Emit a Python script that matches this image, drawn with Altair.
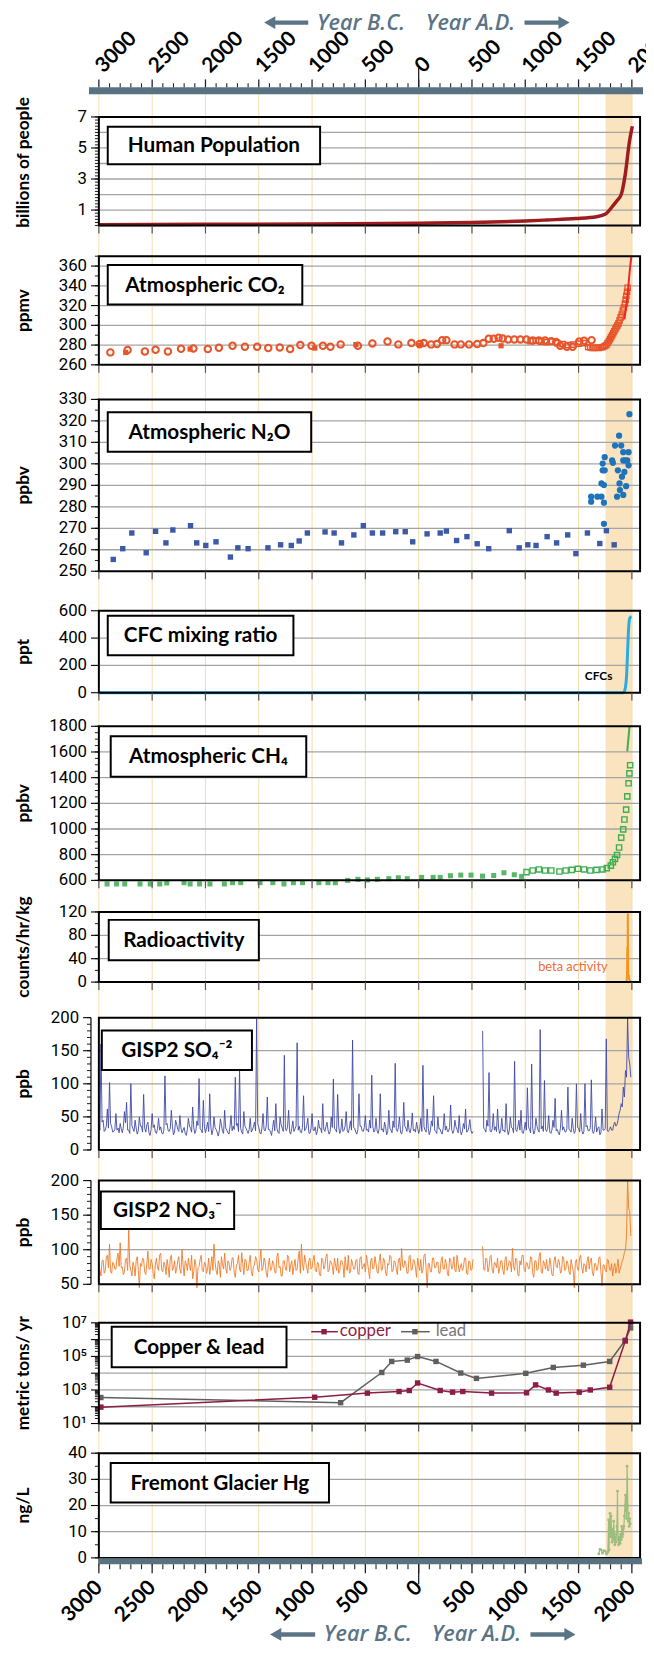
import altair as alt
import pandas as pd

# ------------------------------------------------------------------ data
pop_year = [-3000, -2000, -1000, 0, 500, 1000, 1200, 1475, 1668, 1753, 1784, 1822, 1860, 1900, 1938, 1977, 2004]
pop_val = [0.06, 0.08, 0.10, 0.15, 0.20, 0.30, 0.36, 0.45, 0.57, 0.74, 0.95, 1.27, 1.6, 2.0, 3.3, 5.4, 6.4]

co2_circ_year = [-2892, -2730, -2568, -2468, -2352, -2229, -2113, -1978, -1874, -1746, -1630, -1515, -1411, -1303, -1206,
                 -1110, -1005, -898, -828, -732, -570, -434, -292, -191, -68, 9, 48, 117, 171, 221, 260, 337, 395, 472,
                 549, 607, 657, 704, 750, 788, 839, 897, 954, 1012, 1070, 1128, 1186, 1244, 1290, 1328, 1390, 1444,
                 1506, 1552, 1622]
co2_circ_val = [272.6, 275, 273.6, 275.3, 273.6, 276.3, 276.6, 276, 277.3, 279.3, 278.3, 278.3, 277, 277.6, 276,
                280, 279.3, 279.3, 278.3, 280.7, 279.3, 281.7, 283.7, 280.7, 282, 281, 282, 280.7, 281, 285, 285, 280.7,
                280.7, 280.7, 281, 282, 286.4, 286.4, 287.4, 286.7, 285.7, 285.7, 285.7, 285.7, 284.7, 284.7, 284.7,
                284, 283, 279.3, 278.3, 278.3, 283.7, 284.4, 285]
co2_fsq_year = [-2748, -2144, -975, -589, 9, 773]
co2_fsq_val = [272.5, 276, 277, 280.5, 279.5, 279.3]
co2_osq_year = [1050, 1100, 1150, 1200, 1250, 1300, 1350, 1400, 1450, 1500, 1550, 1590, 1610, 1630, 1650, 1670, 1690,
                1710, 1730, 1745, 1760, 1772, 1784, 1795, 1805, 1815, 1825, 1835, 1845, 1855, 1865, 1875, 1885, 1895,
                1905, 1915, 1925, 1935, 1942, 1948, 1955, 1960]
co2_osq_val = [284, 284.5, 283.5, 283, 283.5, 282, 281, 280, 280.5, 281.5, 282, 278, 277.5, 277, 277, 277.5, 277,
               277.5, 278, 279, 280, 282, 284, 286, 288, 290, 292, 294, 296, 298, 300, 302, 305, 308, 311, 315, 318,
               322, 326, 330, 334, 338]
co2_line_year = [1930, 1945, 1958, 1970, 1980, 1990, 1996]
co2_line_val = [306, 318, 330, 343, 355, 365, 370]

n2o_sq_year = [-2865, -2776, -2691, -2556, -2468, -2371, -2306, -2140, -2082, -1997, -1901, -1766, -1696, -1600,
               -1414, -1295, -1195, -1121, -1044, -878, -793, -724, -608, -519, -434, -338, -215, -126, -56, 79, 202,
               260, 356, 453, 549, 657, 850, 943, 1024, 1101, 1205, 1294, 1398, 1475, 1583, 1699, 1761, 1834]
n2o_sq_val = [255.5, 260.5, 267.8, 258.6, 268.6, 263.2, 269.2, 271.2, 263.2, 262, 263.7, 256.6, 260.9, 260.5, 260.9,
              262.3, 262, 264.1, 267.8, 268.3, 267.8, 263.2, 266.9, 271.2, 267.8, 267.8, 268.4, 268.4, 263.7, 267.4,
              267.8, 268.7, 264.3, 266.1, 262.8, 260.5, 268.9, 260.9, 262.3, 262, 266.1, 263.2, 266.9, 258.2, 267.8,
              262.9, 268.9, 262.3]
n2o_circ_year = [1618, 1618, 1676, 1715, 1738, 1715, 1738, 1726, 1745, 1726, 1745, 1738, 1815, 1822, 1842, 1861,
                 1869, 1880, 1900, 1919, 1907, 1884, 1888, 1919, 1919, 1930, 1938, 1946, 1957, 1969, 1969, 1977]
n2o_circ_val = [284.7, 282.4, 284.7, 284.7, 281.9, 290.9, 290.1, 297, 297, 300.1, 303.1, 272.1, 301.6, 300.5, 308.5,
                284.7, 297, 313.1, 308.5, 301.6, 294, 290.9, 287.8, 285.5, 305.4, 296.2, 301.6, 289.6, 301.6, 305.4,
                299.3, 323.1]

cfc_year = [-3000, 1919, 1930, 1940, 1950, 1958, 1965, 1972, 1980, 1990, 1996]
cfc_val = [0, 0, 10, 40, 120, 260, 400, 500, 545, 555, 558]

ch4_fsq_year = [-2923, -2834, -2757, -2614, -2518, -2429, -2363, -2201, -2144, -2055, -1958, -1823, -1746, -1669,
                -1488, -1368, -1264, -1175, -1090, -936, -851, -782, -666, -570, -481, -388, -280, -191, -107, 28, 136,
                202, 298, 395, 491, 599, 704, 800, 897, 966]
ch4_fsq_val = [572, 572, 572, 572, 572, 572, 579.5, 582, 572, 572, 572, 572, 582, 582, 582, 582, 572, 582, 582, 582,
               582, 582, 600, 608, 603, 608, 613, 620, 613, 623, 623, 623, 636, 641, 641, 633, 638, 659, 644, 631]
ch4_osq_year = [1012, 1070, 1128, 1186, 1244, 1321, 1379, 1437, 1494, 1552, 1610, 1668, 1726, 1765, 1803, 1822, 1842,
                1861, 1880, 1900, 1919, 1930, 1946, 1957, 1969, 1977, 1984]
ch4_osq_val = [664, 677, 685, 677, 677, 669, 677, 682, 690, 685, 677, 682, 685, 695, 715, 741, 767, 797, 856, 933,
               997, 1074, 1151, 1254, 1356, 1433, 1497]
ch4_line_year = [1957, 1967, 1978]
ch4_line_val = [1605, 1700, 1800]

rad_year = [-3000, 1945, 1950, 1953, 1955, 1957, 1959, 1961, 1962, 1963, 1964, 1965, 1966, 1968, 1970, 1972, 1975,
            1980, 1985, 1990, 1995]
rad_val = [0, 0, 2, 8, 20, 60, 35, 70, 118, 90, 40, 25, 15, 10, 6, 12, 4, 3, 2, 1, 0]

N = None
so4_year = list(range(-3000, 1991, 10))
so4_val = [38, 30, 160, 42, 45, 28, 30, 36, 62, 33, 102, 40, 35, 27, 28, 31, 55, 30, 33, 26,
           40, 32, 26, 35, 58, 41, 72, 30, 30, 25, 100, 37, 32, 28, 45, 33, 24, 29, 50, 36,
           36, 27, 84, 33, 27, 38, 42, 26, 22, 31, 55, 34, 38, 27, 25, 32, 48, 30, 35, 26,
           24, 30, 112, 38, 40, 29, 28, 33, 60, 35, 23, 27, 45, 39, 31, 28, 52, 33, 26, 30,
           34, 25, 22, 31, 48, 36, 33, 27, 65, 34, 25, 29, 44, 37, 108, 32, 30, 26, 75, 35,
           26, 33, 42, 28, 85, 36, 23, 30, 50, 34, 31, 27, 21, 29, 47, 38, 28, 25, 60, 33,
           30, 26, 24, 35, 52, 29, 36, 31, 110, 37, 40, 28, 121, 33, 27, 24, 58, 36, 33, 29,
           25, 31, 48, 27, 30, 35, 42, 29, 198, 40, 34, 26, 24, 33, 55, 30, 29, 36, 80, 31,
           31, 27, 22, 34, 45, 29, 70, 33, 27, 25, 50, 38, 33, 28, 143, 31, 29, 35, 60, 27,
           24, 33, 44, 28, 32, 36, 162, 30, 36, 27, 26, 34, 82, 29, 31, 37, 48, 26, 25, 32,
           55, 30, 29, 35, 23, 28, 45, 33, 33, 26, 70, 31, 28, 35, 42, 30, 24, 28, 50, 34,
           107, 32, 31, 27, 84, 35, 25, 30, 47, 28, 30, 36, 58, 29, 26, 33, 44, 30, 166, 34,
           33, 27, 24, 31, 85, 36, 36, 29, 28, 34, 52, 30, 31, 27, 45, 33, 113, 35, 27, 30,
           48, 29, 25, 33, 85, 30, 32, 27, 42, 35, 23, 28, 60, 33, 30, 26, 44, 34, 131, 31,
           28, 34, 50, 27, 24, 31, 72, 36, 33, 28, 45, 30, 26, 34, 56, 29, 31, 27, 42, 33,
           25, 31, 48, 28, 128, 35, 30, 27, 62, 33, 23, 29, 44, 36, 82, 30, 28, 25, 50, 32,
           32, 27, 24, 33, 55, 30, 36, 28, 28, 34, 68, 31, 25, 29, 45, 35, 31, 26, 52, 30,
           23, 28, 40, 32, 62, 27, 28, 34, 46, 30, 25, 28, N, N, N, N, N, N, N, N,
           180, 33, 31, 27, 45, 36, 117, 29, 27, 32, 55, 30, 35, 28, 62, 33, 25, 30, 48, 29,
           30, 27, 70, 33, 23, 29, 50, 34, 33, 26, 134, 31, 28, 35, 45, 30, 60, 27, 25, 31,
           42, 30, 94, 35, 31, 26, 130, 33, 24, 29, 48, 36, 30, 27, 182, 32, 36, 28, 105, 31,
           28, 33, 52, 27, 25, 30, 45, 34, 78, 29, 31, 26, 23, 33, 60, 30, 35, 28, 27, 32,
           95, 31, 30, 27, 48, 33, 25, 29, 100, 34, 33, 27, 55, 30, 24, 28, 100, 35, 37, 29,
           29, 33, 106, 28, 25, 31, 50, 27, 33, 35, 23, 26, 62, 30, 30, 32, 168, 29, 28, 31,
           35, 30, 30, 38, 42, 36, 38, 45, 55, 60, 70, 65, 95, 80, 120, 110, 200, 140, 130, 110]
no3_year = list(range(-3000, 1991, 10))
no3_val = [78, 70, 62, 84, 85, 66, 70, 90, 92, 74, 108, 68, 66, 82, 80, 72, 72, 88, 95, 76,
           110, 74, 75, 64, 68, 86, 88, 70, 130, 78, 70, 62, 82, 76, 62, 84, 90, 70, 45, 80,
           76, 88, 85, 68, 64, 80, 98, 72, 72, 86, 80, 66, 58, 78, 88, 74, 70, 92, 95, 70,
           68, 82, 78, 64, 86, 76, 60, 88, 92, 70, 74, 84, 66, 72, 84, 90, 72, 66, 100, 78,
           62, 84, 80, 70, 88, 76, 70, 92, 58, 68, 86, 78, 45, 74, 76, 86, 92, 70, 68, 82,
           80, 66, 72, 88, 64, 76, 90, 70, 108, 82, 70, 64, 84, 78, 60, 90, 78, 72, 95, 74,
           66, 84, 82, 70, 74, 88, 88, 66, 60, 78, 80, 92, 72, 68, 96, 80, 64, 86, 85, 70,
           70, 82, 92, 68, 62, 76, 78, 90, 86, 72, 68, 84, 100, 70, 74, 88, 82, 66, 60, 78,
           88, 70, 72, 84, 80, 68, 66, 90, 95, 74, 76, 62, 62, 84, 84, 72, 70, 92, 90, 68,
           78, 84, 64, 76, 86, 70, 72, 88, 98, 66, 108, 80, 70, 92, 82, 74, 66, 84, 88, 72,
           74, 86, 92, 70, 68, 82, 80, 64, 62, 88, 86, 72, 76, 90, 94, 68, 70, 84, 82, 76,
           64, 88, 78, 70, 88, 66, 70, 84, 84, 78, 60, 90, 76, 70, 92, 66, 68, 86, 80, 72,
           72, 84, 86, 66, 64, 88, 90, 72, 76, 80, 68, 92, 82, 70, 58, 84, 88, 72, 74, 90,
           80, 68, 66, 84, 94, 70, 72, 88, 84, 66, 62, 80, 78, 92, 90, 68, 70, 84, 82, 72,
           64, 86, 88, 70, 102, 76, 74, 84, 80, 66, 66, 90, 92, 70, 72, 86, 84, 74, 60, 88,
           78, 70, 86, 66, 70, 92, 94, 72, 45, 80, 80, 68, 68, 88, 88, 74, 74, 82, 82, 66,
           66, 84, 90, 72, 72, 86, 80, 64, 62, 88, 86, 72, 76, 90, 70, 68, 92, 80, 68, 74,
           80, 70, 74, 88, 88, 66, 64, 84, 82, 70, 72, 86, N, N, N, N, N, N, N, N,
           105, 72, 70, 88, 86, 68, 74, 90, 92, 70, 66, 82, 80, 74, 88, 66, 72, 84, 84, 70,
           64, 86, 90, 70, 76, 84, 82, 68, 102, 76, 70, 88, 86, 64, 62, 84, 78, 92, 92, 70,
           68, 82, 80, 72, 74, 90, 88, 66, 60, 84, 84, 70, 72, 90, 96, 68, 66, 84, 80, 72,
           86, 70, 70, 88, 78, 64, 62, 84, 90, 76, 74, 86, 82, 66, 68, 90, 88, 70, 72, 84,
           80, 68, 64, 86, 76, 70, 45, 82, 86, 72, 70, 88, 92, 74, 66, 80, 78, 68, 84, 90,
           72, 84, 88, 66, 62, 80, 80, 70, 74, 88, 90, 68, 48, 78, 78, 70, 68, 86, 84, 72,
           70, 80, 62, 74, 80, 66, 74, 86, 66, 72, 78, 84, 88, 96, 100, 120, 200, 160, 155, 120]

cu_year = [-2981, -975, -481, -184, -88, -10, 202, 318, 414, 684, 1012, 1097, 1217, 1290, 1506, 1610, 1792, 1938, 1988]
cu_val = [95, 370, 650, 810, 930, 2600, 930, 740, 810, 650, 680, 2000, 1000, 650, 740, 1000, 1450, 830000, 11000000]
pb_year = [-2981, -732, -346, -253, -107, -10, 163, 395, 542, 1005, 1263, 1545, 1792, 1938, 1988]
pb_val = [355, 175, 11000, 50000, 60000, 98000, 50000, 10200, 4900, 9800, 22000, 30000, 50000, 910000, 5000000]

hg_year = [1690, 1700, 1712, 1725, 1738, 1750, 1762, 1775, 1782, 1786, 1790, 1795, 1800, 1805, 1810, 1815, 1820,
           1825, 1830, 1835, 1840, 1845, 1850, 1855, 1860, 1865, 1870, 1875, 1880, 1885, 1890, 1895, 1900, 1905,
           1910, 1915, 1920, 1925, 1930, 1935, 1940, 1945, 1950, 1955, 1958, 1962, 1966, 1970, 1975, 1980, 1985]
hg_val = [1.5, 3.2, 3.0, 1.8, 2.8, 2.5, 1.5, 2.2, 14.5, 3, 12, 17, 8, 16, 10, 6, 11, 7, 14, 9, 5, 8, 6, 9, 12, 25.5,
          7, 5, 8, 6, 5.5, 9, 7, 12, 8, 9, 11, 12, 16, 20, 24, 18, 15, 35, 30, 20, 14, 17, 12, 15, 13]

log_tick_vals = [10, 1000, 100000, 10000000]
log_tick_text = ["10¹", "10³", "10⁵", "10⁷"]

# ------------------------------------------------------------------ layout / style
W, H = 548, 1489
PT, PL = 85.5, 100.0          # plot origin (reference pixel rows / cols)
BAR = "#587282"
BAND = "#f9e4bf"
VGRID = "#f6dcab"
GRID = "#a4a4a4"
TITLE_C = "#5a7486"
ONE = pd.DataFrame({"k": [0]})
MAJOR = list(range(-3000, 2001, 500))
MINOR = [y for y in range(-3000, 2001, 100) if y % 500 != 0]
XSCALE = alt.Scale(domain=[-3000, 2077], nice=False, zero=False)


def vx(x):
    return x - PL


def vy(y):
    return y - PT


def X(axis=None):
    return alt.X("year:Q", scale=XSCALE, axis=axis, title=None)


def steps(lo, hi, step):
    n = int(round((hi - lo) / step))
    return [round(lo + k * step, 4) for k in range(n + 1)]


def setup(p):
    if p.get("log"):
        p["scale"] = alt.Scale(type="log", domain=p["dom"], range=[vy(p["bot"]), vy(p["top"])], nice=False)
        minors = []
        for e in range(1, 7):
            for m in range(2, 10):
                minors.append(m * 10 ** e)
        p["minor"] = minors
        p["major"] = [10 ** e for e in range(1, 8)]
    else:
        p["scale"] = alt.Scale(domain=p["dom"], range=[vy(p["bot"]), vy(p["top"])], nice=False, zero=False)
        p["minor"] = steps(*p["mticks"]) if p.get("mticks") else []
        p["major"] = steps(*p["labs"])
    return p


def Y(field, p):
    return alt.Y(f"{field}:Q", scale=p["scale"], axis=None, title=None)


def df(years, vals, name="v"):
    return pd.DataFrame({"year": years, name: vals})


def axis_layers(p):
    off = p.get("offset", 0)
    out = []
    out.append(alt.Chart(pd.DataFrame({"t": p["major"]})).mark_rule(color="black", strokeWidth=1.1).encode(
        x=alt.value(-off - 8), x2=alt.value(-off), y=Y("t", p)))
    if p["minor"]:
        out.append(alt.Chart(pd.DataFrame({"t": p["minor"]})).mark_rule(color="black", strokeWidth=0.9).encode(
            x=alt.value(-off - 4), x2=alt.value(-off), y=Y("t", p)))
    if off:
        out.append(alt.Chart(ONE).mark_rule(color="black", strokeWidth=1.2).encode(
            x=alt.value(-off), y=alt.YDatum(p["dom"][0], scale=p["scale"], axis=None),
            y2=alt.Y2Datum(p["dom"][1])))
    if p.get("log"):
        lab = pd.DataFrame({"t": log_tick_vals, "s": log_tick_text})
        out.append(alt.Chart(lab).mark_text(font="Roboto", fontSize=17, align="right", baseline="middle",
                                            color="black").encode(
            x=alt.value(-off - 12), y=Y("t", p), text="s:N"))
    else:
        lab = pd.DataFrame({"t": p["major"]})
        out.append(alt.Chart(lab).mark_text(font="Roboto", fontSize=17, align="right", baseline="middle",
                                            color="black").encode(
            x=alt.value(-off - 12), y=Y("t", p), text=alt.Text("t:Q", format="d")))
    out.append(alt.Chart(ONE).mark_text(text=p["title"], font="Lato", fontSize=17.5, fontWeight="bold",
                                        color="black", angle=270, align="center", baseline="middle").encode(
        x=alt.value(-76), y=alt.value(vy(p.get("tc", (p["top"] + p["bot"]) / 2)))))
    return out


def panel(p, data_layers):
    ys = p["scale"]
    grid = alt.Chart(pd.DataFrame({"g": p["grid"]})).mark_rule(color=GRID, strokeWidth=1.3).encode(
        x=alt.value(0), x2=alt.value(W), y=Y("g", p))
    frame = alt.Chart(ONE).mark_rect(filled=False, color="black", strokeWidth=2).encode(
        x=alt.value(0), x2=alt.value(W),
        y=alt.YDatum(p["dom"][0], scale=ys, axis=None), y2=alt.Y2Datum(p["dom"][1]))
    ticks = alt.Chart(pd.DataFrame({"year": MAJOR})).mark_rule(color="#555555", strokeWidth=1.2, y2Offset=8).encode(
        x=X(), y=alt.YDatum(p["dom"][0], scale=ys, axis=None), y2=alt.Y2Datum(p["dom"][0]))
    bx0, by0, bx1, by1 = p["box"]
    box = alt.Chart(ONE).mark_rect(fill="white", stroke="black", strokeWidth=2).encode(
        x=alt.value(vx(bx0)), x2=alt.value(vx(bx1)), y=alt.value(vy(by0)), y2=alt.value(vy(by1)))
    txt = alt.Chart(ONE).mark_text(font="Lato", fontSize=21, fontWeight="bold", align="center",
                                   baseline="middle", color="black").encode(
        x=alt.value(vx((bx0 + bx1) / 2)), y=alt.value(vy((by0 + by1) / 2) + 1), text=alt.value(p["label"]))
    return [grid] + list(data_layers) + [frame, ticks] + axis_layers(p) + [box, txt]


P = {
    "pop": dict(dom=[0, 7], top=112, bot=222, title="billions of people", mticks=(0, 7, 0.2), labs=(1, 7, 2),
                grid=[1, 2, 3, 4, 5, 6], box=(109, 122, 324, 160), label="Human Population", tc=158),
    "co2": dict(dom=[260, 370], top=253, bot=363, title="ppmv", mticks=(260, 370, 10), labs=(260, 360, 20),
                grid=[280, 300, 320, 340, 360], box=(109, 262, 306, 302), label="Atmospheric CO₂"),
    "n2o": dict(dom=[250, 330], top=398, bot=572, title="ppbv", mticks=(250, 330, 5), labs=(250, 330, 10),
                grid=[260, 270, 280, 290, 300, 310, 320], box=(109, 411, 315, 451), label="Atmospheric N₂O"),
    "cfc": dict(dom=[0, 600], top=612, bot=695, title="ppt", mticks=None, labs=(0, 600, 200),
                grid=[200, 400], box=(109, 617, 297, 657), label="CFC mixing ratio"),
    "ch4": dict(dom=[600, 1800], top=729, bot=885, title="ppbv", mticks=(600, 1800, 50), labs=(600, 1800, 200),
                grid=[800, 1000, 1200, 1400, 1600], box=(112, 739, 310, 780), label="Atmospheric CH₄"),
    "rad": dict(dom=[0, 120], top=917, bot=988, title="counts/hr/kg", mticks=(0, 120, 20), labs=(0, 120, 40),
                grid=[40, 80], box=(110, 925, 262, 966), label="Radioactivity"),
    "so4": dict(dom=[0, 200], top=1024, bot=1158, title="ppb", mticks=(0, 200, 10), labs=(0, 200, 50),
                grid=[50, 100, 150], box=(103, 1037, 255, 1077), label="GISP2 SO₄⁻²", offset=8),
    "no3": dict(dom=[50, 200], top=1189, bot=1294, title="ppb", mticks=(50, 200, 10), labs=(50, 200, 50),
                grid=[100, 150], box=(102, 1200, 237, 1238), label="GISP2 NO₃⁻", offset=8),
    "cu": dict(dom=[10, 10000000], top=1333, bot=1435, title="metric tons/ yr", log=True,
               grid=[100, 1000, 10000, 100000, 1000000], box=(113, 1337, 290, 1378), label="Copper &  lead"),
    "hg": dict(dom=[0, 40], top=1465, bot=1571, title="ng/L", mticks=(0, 40, 5), labs=(0, 40, 10),
               grid=[10, 20, 30], box=(112, 1475, 333, 1515), label="Fremont Glacier Hg"),
}
for k in P:
    setup(P[k])

layers = []

# background band and vertical grid
layers.append(alt.Chart(ONE).mark_rect(color=BAND).encode(
    x=alt.XDatum(1753, scale=XSCALE, axis=None), x2=alt.X2Datum(2004), y=alt.value(0), y2=alt.value(H)))
layers.append(alt.Chart(pd.DataFrame({"year": MAJOR})).mark_rule(color=VGRID, strokeWidth=1).encode(
    x=X(), y=alt.value(0), y2=alt.value(H)))

# population
p = P["pop"]
layers += panel(p, [
    alt.Chart(df(pop_year, pop_val)).mark_line(color="#9e1c1f", strokeWidth=3.5, interpolate="monotone").encode(
        x=X(), y=Y("v", p))])

# CO2
p = P["co2"]
CO2C = "#e8552b"
layers += panel(p, [
    alt.Chart(df(co2_osq_year, co2_osq_val)).mark_point(shape="square", filled=False, color=CO2C, size=28,
                                                         strokeWidth=1.4, opacity=1).encode(x=X(), y=Y("v", p)),
    alt.Chart(df(co2_fsq_year, co2_fsq_val)).mark_square(color=CO2C, size=28, opacity=1).encode(x=X(), y=Y("v", p)),
    alt.Chart(df(co2_circ_year, co2_circ_val)).mark_point(shape="circle", filled=False, color=CO2C, size=42,
                                                           strokeWidth=2.1, opacity=1).encode(x=X(), y=Y("v", p)),
    alt.Chart(df(co2_line_year, co2_line_val)).mark_line(color="#ee2626", strokeWidth=2).encode(x=X(), y=Y("v", p)),
])

# N2O
p = P["n2o"]
layers += panel(p, [
    alt.Chart(df(n2o_sq_year, n2o_sq_val)).mark_square(color="#3d5aa8", size=30, opacity=1).encode(x=X(), y=Y("v", p)),
    alt.Chart(df(n2o_circ_year, n2o_circ_val)).mark_circle(color="#1e73bb", size=40, opacity=1).encode(x=X(), y=Y("v", p)),
])

# CFC
p = P["cfc"]
layers += panel(p, [
    alt.Chart(df(cfc_year, cfc_val)).mark_line(color="#29abe2", strokeWidth=3, interpolate="monotone").encode(
        x=X(), y=Y("v", p)),
    alt.Chart(ONE).mark_text(text="CFCs", font="Lato", fontSize=12, fontWeight="bold", color="black",
                             align="center", baseline="middle").encode(x=alt.value(vx(606)), y=alt.value(vy(678))),
])

# CH4
p = P["ch4"]
CH4C = "#3daf4f"
layers += panel(p, [
    alt.Chart(df(ch4_fsq_year, ch4_fsq_val)).mark_square(color="#58b868", size=26, opacity=1).encode(x=X(), y=Y("v", p)),
    alt.Chart(df(ch4_osq_year, ch4_osq_val)).mark_point(shape="square", filled=False, color=CH4C, size=28,
                                                         strokeWidth=1.4, opacity=1).encode(x=X(), y=Y("v", p)),
    alt.Chart(df(ch4_line_year, ch4_line_val)).mark_line(color=CH4C, strokeWidth=2).encode(x=X(), y=Y("v", p)),
])

# Radioactivity
p = P["rad"]
layers += panel(p, [
    alt.Chart(df(rad_year, rad_val)).mark_line(color="#f7941d", strokeWidth=2).encode(x=X(), y=Y("v", p)),
    alt.Chart(ONE).mark_text(text="beta activity", font="Lato", fontSize=13, color="#f26b3a",
                             align="center", baseline="middle").encode(x=alt.value(vx(580)), y=alt.value(vy(973))),
])

# SO4
p = P["so4"]
so4 = df(so4_year, so4_val).dropna()
so4["seg"] = (so4["year"] > 560).astype(int)
layers += panel(p, [
    alt.Chart(so4).mark_line(color="#3f48a2", strokeWidth=0.9).encode(x=X(), y=Y("v", p), detail="seg:N")])

# NO3
p = P["no3"]
no3 = df(no3_year, no3_val).dropna()
no3["seg"] = (no3["year"] > 560).astype(int)
layers += panel(p, [
    alt.Chart(no3).mark_line(color="#f07a26", strokeWidth=0.9).encode(x=X(), y=Y("v", p), detail="seg:N")])

# Copper & lead
p = P["cu"]
CU = "#8c1d47"
PB = "#5f5f5f"
leg_y = vy(1342)
layers += panel(p, [
    alt.Chart(df(pb_year, pb_val)).mark_line(color=PB, strokeWidth=1.5,
                                             point=alt.OverlayMarkDef(shape="square", size=30, filled=True,
                                                                      color=PB, opacity=1)).encode(x=X(), y=Y("v", p)),
    alt.Chart(df(cu_year, cu_val)).mark_line(color=CU, strokeWidth=1.5,
                                             point=alt.OverlayMarkDef(shape="square", size=30, filled=True,
                                                                      color=CU, opacity=1)).encode(x=X(), y=Y("v", p)),
    alt.Chart(ONE).mark_rule(color=CU, strokeWidth=1.5).encode(x=alt.value(vx(315)), x2=alt.value(vx(342)),
                                                               y=alt.value(leg_y)),
    alt.Chart(ONE).mark_square(color=CU, size=30, opacity=1).encode(x=alt.value(vx(328)), y=alt.value(leg_y)),
    alt.Chart(ONE).mark_text(text="copper", font="Lato", fontSize=17, color=CU, align="left",
                             baseline="middle").encode(x=alt.value(vx(344)), y=alt.value(leg_y - 1)),
    alt.Chart(ONE).mark_rule(color=PB, strokeWidth=1.5).encode(x=alt.value(vx(406)), x2=alt.value(vx(435)),
                                                               y=alt.value(leg_y)),
    alt.Chart(ONE).mark_square(color=PB, size=30, opacity=1).encode(x=alt.value(vx(420)), y=alt.value(leg_y)),
    alt.Chart(ONE).mark_text(text="lead", font="Lato", fontSize=17, color="#777777", align="left",
                             baseline="middle").encode(x=alt.value(vx(441)), y=alt.value(leg_y - 1)),
])

# Hg
p = P["hg"]
HGC = "#9cbd7e"
layers += panel(p, [
    alt.Chart(df(hg_year, hg_val)).mark_line(color=HGC, strokeWidth=1.2,
                                             point=alt.OverlayMarkDef(size=8, filled=True, color=HGC, opacity=1)).encode(
        x=X(), y=Y("v", p))])

# ------------------------------------------------------------------ top and bottom year axes
top_axis = alt.Axis(orient="top", values=MAJOR, labelExpr="format(abs(datum.value), 'd')", labelAngle=315,
                    labelAlign="left", labelBaseline="middle", labelFont="Lato", labelFontWeight="bold",
                    labelFontSize=21, labelColor="black", labelPadding=22, tickSize=0, ticks=False,
                    domain=False, grid=False, labelOverlap=False, labelFlush=False, title=None, zindex=3)
bot_axis = alt.Axis(orient="bottom", values=MAJOR, labelExpr="format(abs(datum.value), 'd')", labelAngle=315,
                    labelAlign="right", labelBaseline="middle", labelFont="Lato", labelFontWeight="bold",
                    labelFontSize=21, labelColor="black", labelPadding=23, tickSize=0, ticks=False,
                    domain=False, grid=False, labelOverlap=False, labelFlush=False, title=None, zindex=3)

layers.append(alt.Chart(ONE).mark_rule(color=BAR, strokeWidth=7).encode(
    x=alt.value(-10), x2=alt.value(551), y=alt.value(0)))
layers.append(alt.Chart(pd.DataFrame({"year": MAJOR})).mark_rule(color="#222222", strokeWidth=1.3).encode(
    x=X(top_axis), y=alt.value(-11.5), y2=alt.value(-3.5)))
layers.append(alt.Chart(pd.DataFrame({"year": MINOR})).mark_rule(color="#222222", strokeWidth=1.1).encode(
    x=X(), y=alt.value(-7.5), y2=alt.value(-3.5)))
layers.append(alt.Chart(pd.DataFrame({"year": [0]})).mark_rule(color="#222222", strokeWidth=1.3).encode(
    x=X(), y=alt.value(-23.5), y2=alt.value(-3.5)))

layers.append(alt.Chart(ONE).mark_rule(color=BAR, strokeWidth=6).encode(
    x=alt.value(0), x2=alt.value(550), y=alt.value(H)))
layers.append(alt.Chart(pd.DataFrame({"year": MAJOR})).mark_rule(color="#222222", strokeWidth=1.3).encode(
    x=X(bot_axis), y=alt.value(H + 3), y2=alt.value(H + 12)))
layers.append(alt.Chart(pd.DataFrame({"year": MINOR})).mark_rule(color="#222222", strokeWidth=1.1).encode(
    x=X(), y=alt.value(H + 3), y2=alt.value(H + 8)))
layers.append(alt.Chart(pd.DataFrame({"year": [0]})).mark_rule(color="#222222", strokeWidth=1.3).encode(
    x=X(), y=alt.value(H + 3), y2=alt.value(H + 23)))


def year_title(yc, bc_right, ad_left, la0, la1, ra0, ra1):
    out = []
    font = dict(font="Open Sans", fontSize=22, fontStyle="italic", fontWeight=600, color=TITLE_C,
                baseline="middle")
    out.append(alt.Chart(ONE).mark_text(text="Year B.C.", align="right", **font).encode(
        x=alt.value(vx(bc_right)), y=alt.value(yc)))
    out.append(alt.Chart(ONE).mark_text(text="Year A.D.", align="left", **font).encode(
        x=alt.value(vx(ad_left)), y=alt.value(yc)))
    out.append(alt.Chart(ONE).mark_rule(color=TITLE_C, strokeWidth=4.5).encode(
        x=alt.value(vx(la0) + 8), x2=alt.value(vx(la1)), y=alt.value(yc)))
    out.append(alt.Chart(ONE).mark_point(shape="triangle-left", filled=True, color=TITLE_C, size=170,
                                         opacity=1).encode(x=alt.value(vx(la0) + 6), y=alt.value(yc)))
    out.append(alt.Chart(ONE).mark_rule(color=TITLE_C, strokeWidth=4.5).encode(
        x=alt.value(vx(ra0)), x2=alt.value(vx(ra1) - 8), y=alt.value(yc)))
    out.append(alt.Chart(ONE).mark_point(shape="triangle-right", filled=True, color=TITLE_C, size=170,
                                         opacity=1).encode(x=alt.value(vx(ra1) - 6), y=alt.value(yc)))
    return out


layers += year_title(-69, 410, 431, 267, 312, 531, 577)
layers += year_title(1563, 417, 437, 273, 319, 537, 583)

chart = alt.layer(*layers).resolve_scale(y="independent").resolve_axis(x="independent", y="independent").properties(
    width=W, height=H,
    padding={"left": 92, "top": 73.5, "right": 6, "bottom": 80.5},
    autosize=alt.AutoSizeParams(type="none"),
    background="white",
).configure_view(stroke=None)

chart.save("out.html", embed_options={"renderer": "svg", "actions": False})
